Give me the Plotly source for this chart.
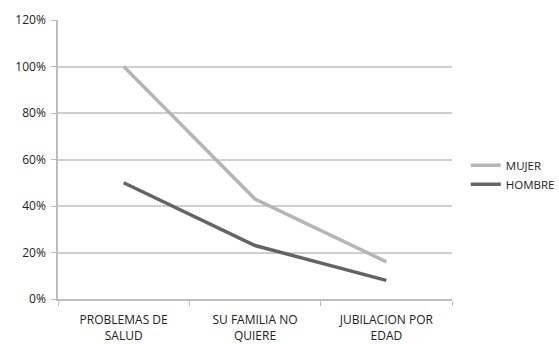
import plotly.graph_objects as go

categories = ["PROBLEMAS DE<br>SALUD", "SU FAMILIA NO<br>QUIERE", "JUBILACION POR<br>EDAD"]
mujer = [1.00, 0.43, 0.16]
hombre = [0.50, 0.23, 0.08]
y_ticks = [0, 0.2, 0.4, 0.6, 0.8, 1.0, 1.2]

fig = go.Figure()
fig.add_trace(go.Scatter(x=categories, y=mujer, mode="lines", name="MUJER",
                         line=dict(color="#b5b5b5", width=3.5)))
fig.add_trace(go.Scatter(x=categories, y=hombre, mode="lines", name="HOMBRE",
                         line=dict(color="#646464", width=3.5)))

font = "Open Sans, Liberation Sans, sans-serif"
fig.update_layout(
    width=559, height=344,
    margin=dict(l=58, r=107, t=20, b=45, autoexpand=False),
    paper_bgcolor="white", plot_bgcolor="white",
    font=dict(family=font, size=12, color="#222222"),
    showlegend=True,
    legend=dict(x=1.035, y=0.445, xanchor="left", yanchor="middle",
                font=dict(size=11.5, color="#222222"), itemwidth=30,
                tracegroupgap=0, bgcolor="rgba(0,0,0,0)"),
    xaxis=dict(type="category", range=[-0.5, 2.5], showgrid=False, showline=True,
               linecolor="#bdbdbd", linewidth=1.5, ticks="outside",
               tickson="boundaries", ticklen=5, tickcolor="#bdbdbd",
               ticklabelstandoff=9,
               tickfont=dict(size=12, color="#222222")),
    yaxis=dict(range=[0, 1.2], tickvals=y_ticks, tickformat=".0%",
               showgrid=True, gridcolor="#cfcfcf", gridwidth=1.5,
               showline=True, linecolor="#bdbdbd", linewidth=1.5,
               ticks="outside", ticklen=5, tickcolor="#bdbdbd",
               ticklabelstandoff=3,
               zeroline=False, tickfont=dict(size=12, color="#222222")),
)
fig.write_html("out.html")
